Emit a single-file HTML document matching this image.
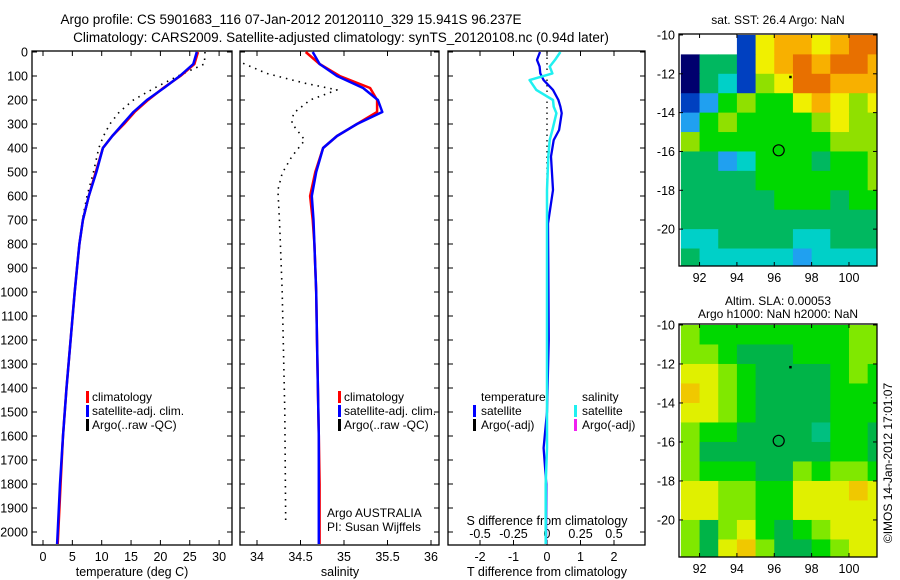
<!DOCTYPE html>
<html><head><meta charset="utf-8">
<style>
html,body{margin:0;padding:0;background:#fff;}
svg{display:block;font-family:"Liberation Sans",sans-serif;}
</style></head>
<body>
<svg id="fig" width="900" height="580" viewBox="0 0 900 580" xmlns="http://www.w3.org/2000/svg">
<text x="291" y="24" font-size="13.5" text-anchor="middle">Argo profile: CS 5901683_116 07-Jan-2012 20120110_329 15.941S 96.237E</text>
<text x="341" y="42" font-size="13.5" text-anchor="middle">Climatology: CARS2009. Satellite-adjusted climatology: synTS_20120108.nc (0.94d later)</text>
<g id="g"></g>
</svg>
<script>
// ---------- data ----------
const depthTicks=[0,100,200,300,400,500,600,700,800,900,1000,1100,1200,1300,1400,1500,1600,1700,1800,1900,2000];
const climDepth=[0,50,100,150,200,250,300,350,400,500,600,700,800,900,1000,1200,1400,1600,1800,2000,2050];
const tempClim=[26.4,25.8,23.4,20.5,17.9,15.6,13.8,11.8,10.2,9.0,7.8,6.8,6.2,5.8,5.4,4.7,4.0,3.4,3.0,2.6,2.5];
const tempSat=[26.2,25.6,23.3,20.6,17.7,15.4,13.6,11.8,10.2,9.1,7.8,6.8,6.2,5.8,5.4,4.7,4.0,3.4,2.9,2.5,2.4];
const argoDepth=[0,50,100,150,200,250,300,350,400,500,600,700];
const tempArgo=[27.6,27.5,23.0,19.0,15.4,13.0,11.4,10.3,9.5,8.6,7.5,6.7];
const salClim=[34.56,34.72,34.95,35.30,35.38,35.38,35.15,34.92,34.76,34.67,34.61,34.64,34.66,34.67,34.68,34.69,34.70,34.71,34.72,34.72,34.72];
const salSat=[34.64,34.72,34.92,35.22,35.39,35.44,35.15,34.92,34.76,34.68,34.63,34.65,34.66,34.67,34.68,34.69,34.70,34.71,34.71,34.71,34.71];
const salArgoDepth=[47,89,130,158,200,255,297,367,436,505,575,714,1000,1500,1960];
const salArgo=[33.84,34.11,34.55,34.92,34.61,34.42,34.40,34.55,34.40,34.29,34.24,34.26,34.29,34.32,34.33];
const diffDepth=[0,33,61,89,117,158,200,228,255,325,367,436,575,714,900,1200,1500,1650,1800,2050];
const tDiffSat=[-0.21,-0.3,-0.22,-0.2,-0.1,0.18,0.34,0.4,0.44,0.36,0.2,0.12,0.18,0.03,0.04,0.05,0.0,-0.1,-0.02,-0.03];
const sDiffSat=[0.1,0.06,0.02,0.04,-0.13,-0.08,0.045,0.05,0.07,0.04,0.02,0.01,0.0,0.0,0.0,0.0,0.0,0.0,-0.01,-0.01];
const tempTicks=[0,5,10,15,20,25,30];
const salTicks=[34,34.5,35,35.5,36];
const tDiffTicks=[-2,-1,0,1,2];
const sDiffTicks=["-0.5","-0.25","0","0.25","0.5"];
const lonTicks=[92,94,96,98,100];
const latTicks=[-10,-12,-14,-16,-18,-20];
// SST map codes (rows lat -10..-22, cols lon 91..102)
const sstGrid=[
[-1,-1,-1,1,7,8,8,7,8,9,9],
[0,4,4,1,7,8,9,8,9,9,8],
[0,4,3,1,6,7,9,9,8,8,8],
[1,2,5,6,5,5,7,8,7,6,7],
[2,5,6,5,5,5,5,6,7,6,6],
[6,5,5,5,5,5,5,5,6,6,6],
[4,4,2,3,5,5,5,4,5,5,6],
[4,4,4,4,5,5,5,5,5,5,6],
[4,4,4,4,4,5,5,5,4,5,5],
[4,4,4,4,4,4,4,4,4,4,4],
[3,3,4,4,4,4,3,3,4,4,4],
[4,3,3,3,3,3,2,3,3,3,3]];
const slaGrid=[
[6,5,5,5,5,5,5,5,5,6,6],
[6,6,5,4,4,4,5,5,5,6,6],
[7,7,6,5,4,4,4,4,5,6,5],
[8,7,6,5,4,4,4,4,5,5,5],
[7,7,6,5,4,4,4,4,5,5,5],
[6,5,5,4,4,4,4,3,5,5,4],
[6,4,4,4,4,4,4,4,5,5,4],
[6,5,5,5,4,4,6,5,6,6,5],
[7,7,6,6,5,5,7,7,7,8,7],
[7,7,6,6,5,5,7,7,7,7,7],
[6,4,6,7,5,4,5,6,7,7,7],
[6,4,7,8,6,4,4,5,6,7,7]];
const palette=["#00006e","#0040c0","#20a0f0","#00d0c8","#00b860","#00d800","#90e000","#f0f000","#f8b000","#e87000","#b00000"];
const slaPalette=["#00006e","#0040c0","#20a0f0","#00c080","#00b448","#00d800","#80e800","#e0f000","#f0c800","#e87000","#b00000"];

// ---------- helpers ----------
const NS="http://www.w3.org/2000/svg";
const G=document.getElementById('g');
function mk(tag,attrs,parent){const e=document.createElementNS(NS,tag);for(const k in attrs)e.setAttribute(k,attrs[k]);(parent||G).appendChild(e);return e;}
const yTop=52, yPerM=0.24;
function yD(d){return yTop+d*yPerM;}
const P1={l:32,r:232}, P2={l:240,r:439}, P3={l:448,r:645};
const pTop=51, pBot=545;
function xT(t){return 43+t*5.87;}
function xS(s){return 257+(s-34)*87;}
function xDT(t){return 547+t*33.5;}
function xDS(s){return 547+s*134;}

function frame(p,name){
  const r=mk('rect',{x:p.l,y:pTop,width:p.r-p.l,height:pBot-pTop,fill:'none',stroke:'#000','stroke-width':1.3});
  
  
  depthTicks.forEach(d=>{
    mk('line',{x1:p.l,x2:p.l+5,y1:yD(d),y2:yD(d),stroke:'#000'});
    mk('line',{x1:p.r,x2:p.r-5,y1:yD(d),y2:yD(d),stroke:'#000'});
  });
}
function xticks(vals,fx,labels,p,name){
  vals.forEach((v,i)=>{
    const x=fx(v);
    mk('line',{x1:x,x2:x,y1:pBot,y2:pBot-5,stroke:'#000'});
    mk('line',{x1:x,x2:x,y1:pTop,y2:pTop+5,stroke:'#000'});
    const t=mk('text',{x:x,y:561,'font-size':12.5,'text-anchor':'middle'});
    t.textContent=labels?labels[i]:v;
    
    
  });
}
function poly(xs,ys,color,w,name,dash){
  const pts=xs.map((x,i)=>x.toFixed(1)+','+ys[i].toFixed(1)).join(' ');
  const a={points:pts,fill:'none',stroke:color,'stroke-width':w,'stroke-linejoin':'round'};
  if(dash)a['stroke-dasharray']=dash;
  const e=mk('polyline',a);
  
  
  return e;
}
function txt(x,y,s,name,anchor,size){
  const t=mk('text',{x:x,y:y,'font-size':size||12,'text-anchor':anchor||'start'});
  t.textContent=s;
  
  
  return t;
}
function legMark(x,y,color,name){
  const e=mk('rect',{x:x,y:y-10,width:3,height:12,fill:color});
  
  
}

// ---------- panel 1: temperature ----------
frame(P1,'temperature-panel');
depthTicks.forEach(d=>txt(28,yD(d)+4.5,String(d),'depth-tick-label','end',12.5));
xticks(tempTicks,xT,null,P1,'temperature-tick-label');
txt(132,576,'temperature (deg C)','temperature-axis-title','middle',12.5);
poly(argoDepth.map((d,i)=>xT(tempArgo[i])),argoDepth.map(yD),'#000',1.6,'temperature-argo-line','1.5 5');
poly(climDepth.map((d,i)=>xT(tempClim[i])),climDepth.map(yD),'#f00',2.5,'temperature-climatology-line');
poly(climDepth.map((d,i)=>xT(tempSat[i])),climDepth.map(yD),'#00f',2.5,'temperature-satellite-line');
legMark(86,401,'#f00','legend-climatology-marker');txt(92,401,'climatology','legend-climatology');
legMark(86,415,'#00f','legend-satellite-marker');txt(92,415,'satellite-adj. clim.','legend-satellite');
legMark(86,429,'#000','legend-argo-marker');txt(92,429,'Argo(..raw -QC)','legend-argo');

// ---------- panel 2: salinity ----------
frame(P2,'salinity-panel');
xticks(salTicks,xS,null,P2,'salinity-tick-label');
txt(340,576,'salinity','salinity-axis-title','middle',12.5);
poly(salArgoDepth.map((d,i)=>xS(salArgo[i])),salArgoDepth.map(yD),'#000',1.6,'salinity-argo-line','1.5 5');
poly(climDepth.map((d,i)=>xS(salClim[i])),climDepth.map(yD),'#f00',2.5,'salinity-climatology-line');
poly(climDepth.map((d,i)=>xS(salSat[i])),climDepth.map(yD),'#00f',2.5,'salinity-satellite-line');
legMark(338,401,'#f00','legend-climatology-marker');txt(344,401,'climatology','legend-climatology');
legMark(338,415,'#00f','legend-satellite-marker');txt(344,415,'satellite-adj. clim.','legend-satellite');
legMark(338,429,'#000','legend-argo-marker');txt(344,429,'Argo(..raw -QC)','legend-argo');
txt(327,517,'Argo AUSTRALIA','argo-agency-label','start',12);
txt(327,531,'PI: Susan Wijffels','pi-label','start',12);

// ---------- panel 3: differences ----------
frame(P3,'difference-panel');
xticks(tDiffTicks,xDT,null,P3,'t-diff-tick-label');
sDiffTicks.forEach(s=>{const t=txt(xDS(parseFloat(s)),538,s,'s-diff-tick-label','middle',12.5);});
txt(547,525,'S difference from climatology','s-diff-axis-title','middle',12.5);
txt(547,576,'T difference from climatology','t-diff-axis-title','middle',12.5);
poly([547,547],[yD(0),yD(800)],'#000',1.3,'argo-diff-line','1.5 4');
poly(diffDepth.map((d,i)=>xDT(tDiffSat[i])),diffDepth.map(yD),'#0000f0',2.3,'t-diff-satellite-line');
poly(diffDepth.map((d,i)=>xDS(sDiffSat[i])),diffDepth.map(yD),'#20f0f0',2.5,'s-diff-satellite-line');
txt(481,401,'temperature','legend-temperature-header');
legMark(473,415,'#00f','legend-t-satellite-marker');txt(481,415,'satellite','legend-t-satellite');
legMark(473,429,'#000','legend-t-argo-marker');txt(481,429,'Argo(-adj)','legend-t-argo');
txt(582,401,'salinity','legend-salinity-header');
legMark(574,415,'#20f0f0','legend-s-satellite-marker');txt(582,415,'satellite','legend-s-satellite');
legMark(574,429,'#f020f0','legend-s-argo-marker');txt(582,429,'Argo(-adj)','legend-s-argo');

// ---------- maps ----------
function map(top,bot,latTop,grid,pal,name){
  const L=679,R=877;
  const lonMin=90.9,lonMax=101.5, latMin=-21.9, latMax=-9.95;
  const fx=lo=>L+(lo-lonMin)/(lonMax-lonMin)*(R-L);
  const fy=la=>top+(latMax-la)/(latMax-latMin)*(bot-top);
  const g=mk('g',{});
  
  
  grid.forEach((row,ri)=>row.forEach((v,ci)=>{
    if(v<0)return;
    const lo0=Math.max(lonMin,91+ci), lo1=Math.min(lonMax,92+ci);
    const la0=Math.min(latMax,-10-ri), la1=Math.max(latMin,-11-ri);
    const c=mk('rect',{x:fx(lo0),y:fy(la0),width:fx(lo1)-fx(lo0)+0.5,height:fy(la1)-fy(la0)+0.5,fill:pal[v]},g);
    
    
  }));
  const fr=mk('rect',{x:L,y:top,width:R-L,height:bot-top,fill:'none',stroke:'#000','stroke-width':1.3});
  lonTicks.forEach(lo=>{
    mk('line',{x1:fx(lo),x2:fx(lo),y1:bot,y2:bot-4,stroke:'#000'});
    mk('line',{x1:fx(lo),x2:fx(lo),y1:top,y2:top+4,stroke:'#000'});
    txt(fx(lo),bot+16,String(lo),'lon-tick-label','middle',12.5);
  });
  latTicks.forEach(la=>{
    mk('line',{x1:L,x2:L+4,y1:fy(la),y2:fy(la),stroke:'#000'});
    mk('line',{x1:R,x2:R-4,y1:fy(la),y2:fy(la),stroke:'#000'});
    txt(L-4,fy(la)+4.5,String(la),'lat-tick-label','end',12.5);
  });
  const ci=mk('circle',{cx:fx(96.237),cy:fy(-15.941),r:5.5,fill:'none',stroke:'#000','stroke-width':1.2});
  
  
  mk('rect',{x:fx(96.8),y:fy(-12.1),width:2.5,height:2.5,fill:'#000'});
}
map(34,266,-10,sstGrid,palette,'sst-map');
txt(778,24,'sat. SST: 26.4  Argo: NaN','sst-map-title','middle',12);
map(324,557,-10,slaGrid,slaPalette,'sla-map');
txt(778,305,'Altim. SLA: 0.00053','sla-map-title','middle',12);
txt(778,318,'Argo h1000: NaN h2000: NaN','sla-map-subtitle','middle',12);
const cp=txt(0,0,'©IMOS 14-Jan-2012 17:01:07','copyright-label','middle',12);
cp.setAttribute('transform','translate(892,463) rotate(-90)');
</script>
</body></html>
